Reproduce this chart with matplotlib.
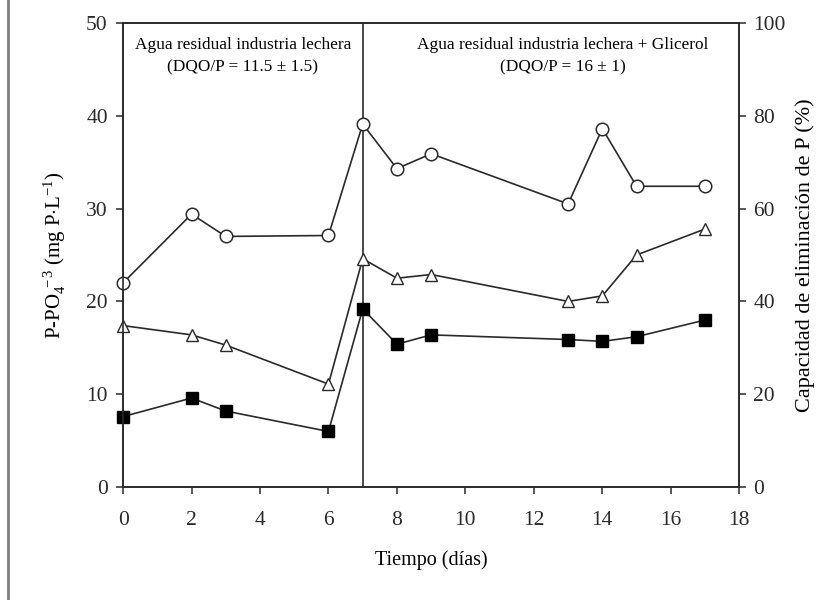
import matplotlib.pyplot as plt
from matplotlib.lines import Line2D

plt.rcParams['font.family'] = 'Liberation Serif'
plt.rcParams['mathtext.fontset'] = 'custom'
plt.rcParams['mathtext.rm'] = 'Liberation Serif'
plt.rcParams['mathtext.it'] = 'Liberation Serif:italic'

# datos (eje izquierdo, mg P/L)
dias = [0, 2, 3, 6, 7, 8, 9, 13, 14, 15, 17]
circulos = [22.0, 29.4, 27.0, 27.1, 39.1, 34.3, 35.9, 30.5, 38.6, 32.4, 32.4]
triangulos = [17.4, 16.4, 15.3, 11.1, 24.6, 22.5, 22.9, 20.0, 20.6, 25.0, 27.8]
cuadrados = [7.6, 9.6, 8.2, 6.0, 19.2, 15.4, 16.4, 15.9, 15.7, 16.2, 18.0]

fig = plt.figure(figsize=(8.26, 6), dpi=100)
ax = fig.add_axes([0.149, 0.188, 0.746, 0.774])

lc = '#2a2a2a'
ax.plot(dias, circulos, '-o', color=lc, mfc='white', mec=lc, ms=9, lw=1.2, mew=1.1, clip_on=False, zorder=3)
ax.plot(dias, triangulos, '-^', color=lc, mfc='white', mec=lc, ms=8.5, lw=1.2, mew=1.0, clip_on=False, zorder=3)
ax.plot(dias, cuadrados, '-s', color=lc, mfc='black', mec='black', ms=8, lw=1.2, clip_on=False, zorder=3)

ax.axvline(7, color=lc, lw=1.2)

ax.set_xlim(0, 18)
ax.set_ylim(0, 50)
ax.set_xticks(range(0, 19, 2))
ax.set_yticks(range(0, 51, 10))
ax.tick_params(direction='out', length=5, width=1.1, labelsize=15.5, colors=lc)
ax.tick_params(axis='x', pad=12)
ax.tick_params(axis='y', pad=6)
for s in ax.spines.values():
    s.set_linewidth(1.2)
    s.set_color(lc)

ax2 = ax.twinx()
ax2.set_ylim(0, 100)
ax2.set_yticks(range(0, 101, 20))
ax2.tick_params(direction='out', length=5, width=1.1, labelsize=15.5, colors=lc, pad=5)
for s in ax2.spines.values():
    s.set_linewidth(1.2)
    s.set_color(lc)

ax.set_xlabel('Tiempo (días)', fontsize=14.5, labelpad=15)
ax.set_ylabel(r'P-PO$_4^{\ -3}$ (mg P$\cdot$L$^{-1}$)', fontsize=15, labelpad=13)
ax2.set_ylabel('Capacidad de eliminación de P (%)', fontsize=16, labelpad=7)

ax.text(3.5, 47.6, 'Agua residual industria lechera', ha='center', va='center', fontsize=12.4)
ax.text(3.5, 45.2, '(DQO/P = 11.5 ± 1.5)', ha='center', va='center', fontsize=12.4)
ax.text(12.85, 47.6, 'Agua residual industria lechera + Glicerol', ha='center', va='center', fontsize=12.4)
ax.text(12.85, 45.2, '(DQO/P = 16 ± 1)', ha='center', va='center', fontsize=12.4)

fig.add_artist(Line2D([0.01, 0.01], [0, 1], color='#808080', lw=2))

fig.savefig('out.png', dpi=100)
